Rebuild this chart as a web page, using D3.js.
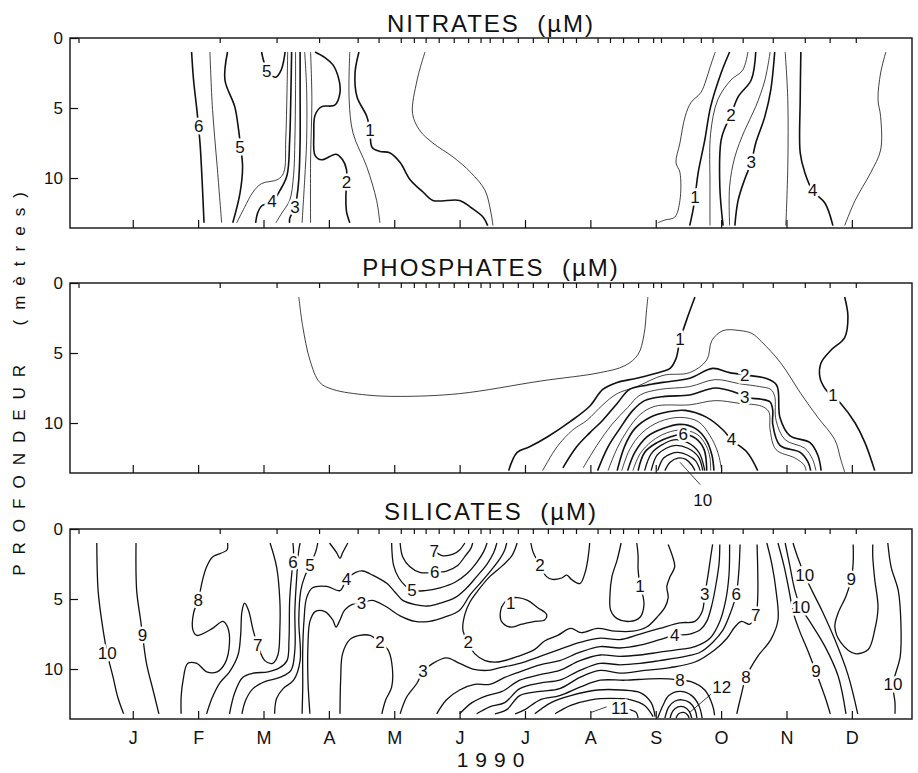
<!DOCTYPE html>
<html>
<head>
<meta charset="utf-8">
<script src="https://cdn.jsdelivr.net/npm/d3@7"></script>
<style>
  body { margin: 0; background: #fff; }
  text { font-family: "Liberation Sans", Arial, Helvetica, sans-serif; fill: #111; }
</style>
</head>
<body>
<svg id="chart" width="918" height="773"></svg>
<script>
// axis values
const months = ["J", "F", "M", "A", "M", "J", "J", "A", "S", "O", "N", "D"];
const monthTicks = [1, 2, 3, 4, 5, 6, 7, 8, 9, 10, 11, 12];
const depthTicks = [0, 5, 10];
// sampling dates (month units), the little ticks along the top edge
const sampleDates = [0.17, 2.33, 3.20, 3.85, 4.44, 4.76, 5.10, 5.30, 5.48, 5.68, 5.91, 6.13, 6.32, 6.46,
  6.66, 6.89, 7.12, 7.35, 7.58, 7.78, 8.11, 8.30, 8.50, 8.73, 8.96, 9.08, 9.42, 9.69, 9.87, 10.33,
  10.79, 11.28, 11.66, 12.06];

// ---- NITRATES contours: [month, depth] ----
const n6 = [[1.90,1.0],[1.93,3.0],[1.98,5.1],[2.03,7.6],[2.06,10.1],[2.09,13.2]];
const n55 = [[2.18,1.0],[2.22,5.1],[2.29,9.1],[2.36,13.2]];
const n5 = [[2.45,1.0],[2.41,3.0],[2.56,4.9],[2.62,6.6],[2.65,7.8],[2.68,9.2],[2.64,11.1],[2.53,13.2]];
const n5u = [[2.97,1.0],[3.02,1.9],[3.10,2.6],[3.19,2.8],[3.27,2.3],[3.31,1.6],[3.33,1.0]];
const n45 = [[3.37,1.0],[3.36,3.7],[3.34,7.3],[3.31,9.6],[3.22,10.1],[2.97,10.4],[2.84,11.0],[2.71,12.1],[2.59,13.2]];
const n4 = [[3.43,1.0],[3.42,3.7],[3.40,7.3],[3.36,9.8],[3.25,10.9],[3.13,11.7],[2.97,12.0],[2.91,12.5],[2.88,13.2]];
const n35 = [[3.49,1.0],[3.49,3.7],[3.48,7.3],[3.46,9.8],[3.40,11.6],[3.28,12.5],[3.19,13.2]];
const n3 = [[3.56,1.0],[3.56,3.7],[3.56,7.3],[3.54,10.1],[3.51,11.4],[3.48,12.1],[3.40,12.9],[3.40,13.2]];
const n25 = [[3.63,1.0],[3.66,3.7],[3.66,7.3],[3.63,10.1],[3.59,13.2]];
const n22 = [[3.72,1.0],[3.74,4.4],[3.72,8.7],[3.72,13.2]];
const n2 = [[3.79,1.0],[3.94,1.4],[4.06,1.9],[4.15,2.9],[4.17,3.9],[4.09,4.8],[3.89,4.9],[3.79,5.5],[3.77,6.9],[3.79,8.4],[3.89,8.7],[4.11,8.3],[4.21,8.7],[4.27,9.4],[4.27,10.3],[4.26,11.4],[4.27,12.4],[4.32,13.2]];
const n15 = [[4.32,1.0],[4.31,4.4],[4.37,6.8],[4.58,9.2],[4.73,11.6],[4.78,13.2]];
const n1 = [[4.46,1.0],[4.40,2.5],[4.43,4.2],[4.58,5.6],[4.63,6.6],[4.66,7.8],[4.78,8.1],[4.93,8.2],[5.09,8.9],[5.24,10.1],[5.44,11.0],[5.59,11.6],[6.00,11.6],[6.17,12.1],[6.36,12.8],[6.43,13.4]];
const n05 = [[5.47,1.0],[5.35,3.0],[5.28,5.4],[5.39,6.6],[5.59,7.5],[5.90,8.5],[6.17,9.6],[6.39,10.9],[6.48,12.5],[6.51,13.4]];
const n05r = [[9.91,1.0],[9.83,2.1],[9.77,3.0],[9.69,3.9],[9.54,4.6],[9.45,5.6],[9.37,7.5],[9.31,8.9],[9.37,9.6],[9.37,11.6],[9.29,12.8],[9.14,13.0],[9.03,13.2]];
const n1r = [[10.13,1.0],[10.00,2.5],[9.84,4.9],[9.75,7.3],[9.65,9.6],[9.60,11.4],[9.57,12.3],[9.52,13.4]];
const n15r = [[10.41,1.0],[10.33,2.3],[10.15,3.0],[9.95,4.4],[9.84,6.8],[9.83,10.6],[9.83,13.4]];
const n2r = [[10.53,1.0],[10.46,3.0],[10.26,4.2],[10.15,5.5],[10.06,6.4],[10.00,7.3],[9.98,10.6],[10.03,13.4]];
const n25r = [[10.75,1.0],[10.67,3.0],[10.53,4.9],[10.36,6.6],[10.21,8.5],[10.13,10.6],[10.13,13.4]];
const n3r = [[10.82,1.0],[10.76,3.7],[10.67,5.6],[10.53,7.5],[10.46,8.9],[10.36,10.1],[10.26,11.6],[10.21,13.4]];
const n35r = [[10.98,1.0],[11.02,4.4],[11.02,9.2],[10.99,13.4]];
const n4r = [[11.22,1.0],[11.21,4.4],[11.21,8.2],[11.28,9.6],[11.40,10.9],[11.59,11.8],[11.71,13.4]];
const n35r2 = [[12.52,1.0],[12.44,2.5],[12.40,4.4],[12.44,5.6],[12.44,8.0],[12.29,9.6],[12.05,11.6],[11.89,13.4]];
const nitLabels = [[2.01,6.3,"6"],[2.64,7.8,"5"],[3.05,2.4,"5"],[3.13,11.7,"4"],[3.48,12.1,"3"],[4.27,10.3,"2"],
  [4.63,6.6,"1"],[9.60,11.4,"1"],[10.15,5.5,"2"],[10.46,8.9,"3"],[11.40,10.9,"4"]];

// ---- PHOSPHATES contours ----
const p05 = [[3.54,1.0],[3.60,3.1],[3.71,5.5],[3.86,7.1],[4.06,7.6],[4.58,8.0],[5.09,8.1],[6.00,7.9],[7.24,7.0],[8.15,6.4],[8.53,5.9],[8.73,5.1],[8.82,3.7],[8.86,1.9],[8.88,1.0]];
const p1 = [[9.60,1.0],[9.49,2.4],[9.37,4.1],[9.31,5.4],[9.22,6.1],[9.11,6.3],[8.71,6.8],[8.41,7.1],[8.19,7.6],[7.99,8.8],[7.69,9.9],[7.34,11.0],[7.07,11.7],[6.88,12.1],[6.75,13.4]];
const p15 = [[7.27,13.4],[7.49,11.7],[7.73,10.5],[7.95,9.8],[8.19,8.7],[8.41,7.9],[8.71,7.4],[9.11,6.6],[9.52,6.4],[9.78,5.5],[9.86,4.1],[10.03,3.4],[10.29,3.4],[10.47,3.6],[10.62,4.2],[10.91,5.7],[11.22,7.9],[11.48,9.6],[11.74,11.2],[11.83,12.6],[11.89,13.5]];
const p2 = [[7.58,13.2],[7.79,11.7],[7.99,10.7],[8.19,9.8],[8.41,8.6],[8.60,7.6],[8.86,7.3],[9.11,7.1],[9.52,6.8],[9.87,6.1],[10.13,6.4],[10.41,6.6],[10.68,6.8],[10.85,7.3],[10.90,9.6],[11.05,10.9],[11.36,11.4],[11.48,12.3],[11.53,13.4]];
const p25 = [[7.89,13.2],[8.10,11.6],[8.33,10.1],[8.57,8.9],[8.76,8.0],[9.06,7.6],[9.52,7.4],[9.91,6.9],[10.29,7.2],[10.59,7.4],[10.76,7.6],[10.82,8.1],[10.84,9.8],[10.98,11.2],[11.28,11.8],[11.40,12.6],[11.45,13.4]];
const p3 = [[8.11,13.4],[8.27,11.7],[8.45,10.4],[8.65,9.1],[8.83,8.4],[9.14,8.1],[9.52,8.0],[9.91,7.5],[10.21,7.8],[10.41,8.2],[10.62,8.3],[10.75,8.5],[10.79,9.1],[10.79,10.1],[10.90,11.6],[11.21,12.1],[11.33,12.8],[11.37,13.4]];
const p35 = [[8.27,13.4],[8.41,11.8],[8.57,10.5],[8.76,9.4],[8.99,8.8],[9.52,8.7],[9.91,8.4],[10.29,8.6],[10.62,8.8],[10.73,9.2],[10.75,10.5],[10.84,11.9],[11.13,12.5],[11.27,13.0],[11.30,13.4]];
const p4 = [[8.41,13.4],[8.53,11.6],[8.68,10.4],[8.91,9.6],[9.19,9.2],[9.45,9.1],[9.78,9.6],[10.03,10.5],[10.16,11.2],[10.40,12.1],[10.56,13.4]];
const p45 = [[8.48,13.4],[8.60,11.9],[8.79,10.7],[9.06,9.9],[9.37,9.6],[9.65,9.9],[9.83,10.9],[9.95,12.1],[10.01,13.4]];
const p5 = [[8.57,13.4],[8.68,12.1],[8.86,11.0],[9.11,10.4],[9.37,10.1],[9.61,10.4],[9.77,11.2],[9.86,12.3],[9.89,13.4]];
const p55 = [[8.65,13.4],[8.76,12.2],[8.94,11.3],[9.17,10.7],[9.40,10.5],[9.63,10.8],[9.77,11.6],[9.83,12.5],[9.84,13.4]];
const p6 = [[8.73,13.4],[8.83,12.1],[9.02,11.4],[9.22,11.0],[9.42,10.8],[9.61,11.1],[9.74,11.9],[9.78,13.4]];
const p7 = [[8.83,13.4],[8.93,12.2],[9.08,11.6],[9.28,11.2],[9.49,11.4],[9.66,12.1],[9.75,13.4]];
const p8 = [[8.93,13.4],[9.02,12.3],[9.16,11.8],[9.31,11.6],[9.49,11.8],[9.65,12.4],[9.72,13.4]];
const p9 = [[9.03,13.4],[9.12,12.5],[9.23,12.2],[9.34,12.1],[9.49,12.3],[9.61,12.7],[9.68,13.4]];
const p10 = [[9.14,13.4],[9.22,12.8],[9.34,12.5],[9.46,12.6],[9.55,13.0],[9.60,13.4]];
const p1r = [[11.89,1.0],[11.94,2.4],[11.89,3.9],[11.68,4.8],[11.53,5.7],[11.51,6.7],[11.60,7.6],[11.83,8.6],[12.05,10.0],[12.20,11.4],[12.35,13.4]];
const p10lead = [[9.37,12.8],[9.68,14.4]];
const phoLabels = [[9.37,4.0,"1"],[10.36,6.6,"2"],[10.36,8.2,"3"],[10.16,11.2,"4"],[9.42,10.8,"6"],[11.71,8.0,"1"],[9.72,15.5,"10"]];

// ---- SILICATES contours ----
const s10l = [[0.45,1.0],[0.47,4.4],[0.53,6.7],[0.61,8.9],[0.70,10.6],[0.77,12.0],[0.86,13.2]];
const s9l = [[1.05,1.0],[1.06,4.4],[1.12,6.5],[1.15,7.6],[1.21,9.6],[1.31,11.5],[1.40,13.2]];
const s8 = [[2.45,1.0],[2.44,1.5],[2.22,2.0],[2.13,2.7],[2.07,3.6],[2.00,5.1],[1.93,6.0],[1.92,7.2],[1.98,7.6],[2.22,7.1],[2.38,6.6],[2.45,7.0],[2.48,8.1],[2.41,9.6],[2.29,10.2],[2.13,10.2],[1.98,9.6],[1.84,9.6],[1.77,10.8],[1.74,12.0],[1.74,13.2]];
const s7 = [[3.10,1.0],[3.20,2.7],[3.25,5.1],[3.25,7.2],[3.22,9.0],[3.14,9.6],[3.02,9.4],[2.91,8.3],[2.84,7.2],[2.77,5.8],[2.71,5.3],[2.67,5.9],[2.65,7.6],[2.61,9.0],[2.48,10.2],[2.33,11.0],[2.21,12.1],[2.13,13.2]];
const s6 = [[3.45,1.0],[3.46,1.6],[3.45,2.4],[3.43,3.3],[3.40,5.1],[3.39,7.9],[3.36,9.4],[3.25,9.9],[3.07,10.2],[2.84,10.3],[2.68,10.6],[2.56,11.7],[2.48,13.2]];
const s55 = [[3.56,1.0],[3.54,1.5],[3.51,3.3],[3.48,5.8],[3.48,8.6],[3.42,10.1],[3.25,10.6],[3.02,10.9],[2.84,11.4],[2.73,12.2],[2.67,13.2]];
const s5 = [[3.83,1.0],[3.80,1.6],[3.71,2.6],[3.63,3.4],[3.57,4.4],[3.54,6.5],[3.56,9.4],[3.46,10.8],[3.30,11.4],[3.20,12.1],[3.17,13.2]];
const s4 = [[3.59,13.2],[3.60,11.3],[3.60,8.6],[3.62,6.5],[3.66,4.9],[3.75,4.2],[3.97,4.1],[4.17,4.4],[4.27,3.6],[4.41,3.1],[4.52,3.0],[4.67,3.3],[4.89,3.9],[5.01,4.5],[5.13,5.1],[5.32,5.4],[5.51,5.5],[5.70,5.3],[5.93,4.9],[6.11,4.2],[6.26,3.4],[6.42,2.5],[6.52,1.7],[6.57,1.0]];
const s3l = [[3.71,13.2],[3.68,10.8],[3.68,8.3],[3.71,6.6],[3.79,5.9],[3.94,5.9],[4.06,6.5],[4.11,7.0],[4.17,6.5],[4.24,5.8],[4.35,5.4],[4.50,5.3],[4.66,5.1],[4.86,5.5],[5.09,6.2],[5.32,6.6],[5.54,6.6],[5.77,6.3],[6.00,5.8],[6.16,4.7],[6.31,3.9],[6.49,2.9],[6.62,2.1],[6.69,1.5],[6.72,1.0]];
const s2n = [[4.17,13.2],[4.18,10.8],[4.21,8.9],[4.32,7.9],[4.47,7.6],[4.63,7.6],[4.78,8.1],[4.90,8.6],[4.96,9.5],[4.96,11.3],[4.87,12.2],[4.81,13.2]];
const sV = [[4.01,1.0],[4.12,1.7],[4.17,2.1],[4.21,1.7],[4.29,1.0]];
const s5u = [[4.96,1.0],[4.99,2.6],[5.07,3.5],[5.18,4.1],[5.27,4.4],[5.47,4.4],[5.70,4.2],[5.93,3.8],[6.11,3.2],[6.26,2.4],[6.37,1.6],[6.42,1.0]];
const s6u = [[5.09,1.0],[5.13,2.0],[5.24,2.7],[5.39,3.1],[5.62,3.1],[5.80,3.0],[5.97,2.6],[6.09,1.9],[6.17,1.4],[6.20,1.0]];
const s7u = [[5.54,1.0],[5.61,1.5],[5.73,1.9],[5.90,1.8],[6.00,1.5],[6.08,1.0]];
const s2 = [[6.88,1.0],[6.80,1.9],[6.66,2.6],[6.46,3.4],[6.28,4.4],[6.16,5.2],[6.08,6.1],[6.05,7.2],[6.13,8.1],[6.23,8.9],[6.39,9.4],[6.58,9.5],[6.89,9.1],[7.15,8.6],[7.30,8.0],[7.50,7.6],[7.70,7.1],[7.86,7.4],[8.11,7.1],[8.38,7.3],[8.65,7.3],[8.86,7.0],[9.02,6.3],[9.14,5.6],[9.19,4.9],[9.17,4.1],[9.22,3.4],[9.29,2.7],[9.26,2.0],[9.19,1.1]];
const sLoop1 = [[6.64,5.6],[6.74,5.0],[6.89,4.9],[7.04,5.1],[7.19,5.6],[7.33,6.1],[7.30,6.5],[7.15,6.6],[6.95,6.8],[6.77,7.0],[6.64,6.6],[6.62,6.1],[6.64,5.6]];
const sU1 = [[8.47,1.0],[8.41,2.2],[8.33,3.4],[8.30,4.7],[8.31,5.8],[8.41,6.4],[8.60,6.6],[8.76,6.3],[8.82,5.4],[8.79,4.5],[8.76,4.0],[8.73,2.9],[8.73,1.9],[8.71,1.0]];
const s2u = [[7.09,1.0],[7.12,1.6],[7.18,2.2],[7.23,2.6],[7.33,3.4],[7.42,3.6],[7.56,3.5],[7.64,3.3],[7.71,3.6],[7.84,3.9],[7.92,3.1],[7.96,2.2],[7.99,1.0]];
const c3 = [[5.09,13.2],[5.19,12.0],[5.35,11.0],[5.44,10.2],[5.59,9.6],[5.80,9.2],[6.00,9.6],[6.20,10.0],[6.42,10.1],[6.62,9.9],[6.92,9.6],[7.23,9.1],[7.53,8.6],[7.84,8.1],[8.15,7.8],[8.45,7.9],[8.76,7.5],[9.06,7.1],[9.37,6.7],[9.60,6.6],[9.71,5.9],[9.75,4.7],[9.80,3.3],[9.84,2.0],[9.87,1.1]];
const c4 = [[5.65,13.2],[5.80,12.2],[6.00,11.5],[6.23,11.1],[6.46,11.1],[6.69,10.6],[6.92,10.2],[7.23,9.7],[7.53,9.4],[7.84,8.8],[8.15,8.4],[8.45,8.5],[8.76,8.3],[9.06,7.9],[9.29,7.6],[9.52,7.5],[9.68,7.2],[9.78,6.6],[9.86,5.4],[9.92,4.0],[9.97,2.4],[9.98,1.1]];
const c5 = [[6.00,13.2],[6.19,12.4],[6.42,11.9],[6.65,11.6],[6.92,10.8],[7.23,10.4],[7.53,10.1],[7.84,9.4],[8.15,9.0],[8.45,9.1],[8.76,9.0],[9.06,8.8],[9.37,8.6],[9.60,8.4],[9.83,7.8],[9.98,6.6],[10.07,5.1],[10.12,3.3],[10.13,1.1]];
const c6 = [[6.26,13.2],[6.46,12.7],[6.69,12.4],[6.92,11.4],[7.23,11.0],[7.53,10.8],[7.84,10.1],[8.15,9.6],[8.45,9.7],[8.76,9.6],[9.06,9.4],[9.45,9.1],[9.68,8.8],[9.87,8.1],[10.03,7.2],[10.15,5.9],[10.23,4.7],[10.27,3.1],[10.29,1.1]];
const c7 = [[6.54,13.2],[6.72,12.9],[6.92,11.9],[7.23,11.6],[7.53,11.4],[7.84,10.6],[8.15,10.1],[8.45,10.3],[8.83,10.1],[9.22,9.9],[9.60,9.5],[9.91,8.6],[10.09,7.8],[10.21,7.0],[10.31,6.6],[10.44,6.8],[10.53,6.2],[10.56,4.9],[10.56,2.9],[10.55,1.1]];
const c8 = [[6.85,13.2],[7.00,12.9],[7.23,12.2],[7.53,11.9],[7.84,11.3],[8.15,10.8],[8.53,10.8],[8.91,10.7],[9.19,10.7],[9.37,10.8],[9.54,10.9],[9.75,11.5],[9.87,12.6],[9.90,13.3]];
const arc9 = [[7.15,13.2],[7.40,12.4],[7.70,11.9],[8.11,11.5],[8.47,11.5],[8.77,11.7],[8.93,12.4],[8.99,13.4]];
const arc10 = [[7.46,13.2],[7.70,12.6],[8.01,12.2],[8.31,12.1],[8.62,12.2],[8.83,12.6],[8.96,13.4]];
const arc11 = [[8.60,12.9],[8.70,13.1],[8.73,13.5]];
const lead11 = [[8.01,13.1],[8.25,12.7]];
const a12a = [[9.03,13.5],[9.11,12.6],[9.20,11.9],[9.37,11.6],[9.55,11.9],[9.66,12.6],[9.71,13.5]];
const a12b = [[9.14,13.5],[9.20,12.7],[9.29,12.3],[9.40,12.2],[9.52,12.4],[9.60,12.9],[9.63,13.5]];
const a12c = [[9.22,13.5],[9.26,13.0],[9.34,12.7],[9.43,12.7],[9.51,13.0],[9.55,13.5]];
const a12d = [[9.31,13.5],[9.35,13.2],[9.43,13.1],[9.49,13.3],[9.51,13.5]];
const lead12 = [[9.87,11.7],[9.52,13.1]];
const s8r = [[10.70,1.0],[10.78,2.6],[10.84,4.4],[10.87,6.5],[10.76,7.9],[10.56,9.1],[10.38,10.6],[10.30,12.0],[10.24,13.2]];
const s9 = [[10.87,1.0],[10.96,2.6],[11.04,4.4],[11.10,5.9],[11.21,7.4],[11.31,8.5],[11.45,10.2],[11.59,12.0],[11.67,13.2]];
const s10a = [[10.98,1.0],[11.05,2.6],[11.13,4.4],[11.22,5.6],[11.37,6.7],[11.59,8.4],[11.79,10.5],[11.91,13.2]];
const s10b = [[11.10,1.0],[11.17,2.0],[11.28,3.3],[11.39,4.4],[11.54,5.8],[11.74,7.9],[11.94,10.4],[12.09,13.2]];
const s9u = [[12.02,1.1],[12.02,2.4],[11.99,3.6],[11.91,4.8],[11.79,6.0],[11.74,7.0],[11.83,8.1],[12.05,8.9],[12.25,8.6],[12.35,7.2],[12.40,5.6],[12.35,3.6],[12.32,2.0],[12.32,1.1]];
const s10r = [[12.55,1.0],[12.60,2.7],[12.71,4.4],[12.75,6.7],[12.74,9.1],[12.63,11.1],[12.66,12.4],[12.66,13.2]];
const silLabels = [[0.61,8.9,"10"],[1.15,7.6,"9"],[2.00,5.1,"8"],[2.91,8.3,"7"],[3.45,2.4,"6"],[3.71,2.6,"5"],
  [4.27,3.6,"4"],[4.50,5.3,"3"],[4.78,8.1,"2"],[5.27,4.4,"5"],[5.62,3.1,"6"],[5.61,1.6,"7"],[6.13,8.1,"2"],
  [6.78,5.3,"1"],[7.23,2.6,"2"],[8.76,4.1,"1"],[5.44,10.2,"3"],[9.75,4.7,"3"],[9.29,7.6,"4"],[10.23,4.7,"6"],
  [10.53,6.2,"7"],[9.37,10.8,"8"],[10.38,10.6,"8"],[8.45,12.8,"11"],[10.01,11.3,"12"],[11.28,3.3,"10"],
  [11.22,5.6,"10"],[11.99,3.6,"9"],[11.45,10.2,"9"],[12.63,11.1,"10"]];

const THICK = 1.6, THIN = 0.8, MID = 1.3;
const nitContours = [
  [n6, THICK], [n55, THIN], [n5, THICK], [n5u, THICK], [n45, THIN], [n4, THICK], [n35, THIN], [n3, THICK],
  [n25, THIN], [n22, THIN], [n2, THICK], [n15, THIN], [n1, THICK], [n05, THIN],
  [n05r, THIN], [n1r, THICK], [n15r, THIN], [n2r, THICK], [n25r, THIN], [n3r, THICK], [n35r, THIN],
  [n4r, THICK], [n35r2, THIN]];
const phoContours = [
  [p05, THIN], [p1, THICK], [p15, THIN], [p2, THICK], [p25, THIN], [p3, THICK], [p35, THIN], [p4, THICK],
  [p45, THIN], [p5, THICK], [p55, THIN], [p6, THICK], [p7, MID], [p8, MID], [p9, MID], [p10, MID],
  [p1r, THICK], [p10lead, THIN]];
const silContours = [
  [s10l, MID], [s9l, MID], [s8, MID], [s7, MID], [s6, MID], [s55, MID], [s5, MID], [s4, MID], [s3l, MID],
  [s2n, MID], [sV, MID], [s5u, MID], [s6u, MID], [s7u, MID], [s2, MID], [sLoop1, MID], [sU1, MID], [s2u, MID],
  [c3, MID], [c4, MID], [c5, MID], [c6, MID], [c7, MID], [c8, MID], [arc9, MID], [arc10, MID], [arc11, MID],
  [lead11, THIN], [a12a, MID], [a12b, MID], [a12c, MID], [a12d, MID], [lead12, THIN],
  [s8r, MID], [s9, MID], [s10a, MID], [s10b, MID], [s9u, MID], [s10r, MID]];

// ---- layout ----
const svg = d3.select("#chart");
const x = d3.scaleLinear().domain([0.04, 12.92]).range([70, 912]);
const panelTops = [38, 283, 529];
const titleBase = [32, 276, 520];
const panelH = 190;
const maxDepth = 13.57;
const ink = "#111";

function drawPanel(i, title, contours, labels, showMonths) {
  const top = panelTops[i];
  const y = d3.scaleLinear().domain([0, maxDepth]).range([top, top + panelH]);
  const g = svg.append("g");

  g.append("text")
    .attr("x", 491).attr("y", titleBase[i])
    .attr("text-anchor", "middle")
    .attr("font-size", 24).attr("letter-spacing", 2)
    .style("white-space", "pre")
    .text(title);

  const line = d3.line()
    .x(d => x(d[0])).y(d => y(d[1]))
    .curve(d3.curveCatmullRom.alpha(0.5));

  g.append("g").selectAll("path")
    .data(contours)
    .join("path")
    .attr("d", c => line(c[0]))
    .attr("fill", "none")
    .attr("stroke", ink)
    .attr("stroke-width", c => c[1])
    .attr("stroke-linejoin", "round");

  g.append("g").selectAll("text")
    .data(labels)
    .join("text")
    .attr("x", d => x(d[0])).attr("y", d => y(d[1]))
    .attr("text-anchor", "middle")
    .attr("dominant-baseline", "central")
    .attr("font-size", 17)
    .attr("stroke", "#fff").attr("stroke-width", 5).attr("paint-order", "stroke")
    .text(d => d[2]);

  // frame
  g.append("rect")
    .attr("x", 70).attr("y", top).attr("width", 842).attr("height", panelH)
    .attr("fill", "none").attr("stroke", ink).attr("stroke-width", 1.4);

  const left = g.append("g").attr("transform", "translate(70,0)")
    .call(d3.axisLeft(y).tickValues(depthTicks).tickSizeInner(-8).tickSizeOuter(0).tickPadding(7)
      .tickFormat(d3.format("d")));
  const bottom = g.append("g").attr("transform", `translate(0,${top + panelH})`)
    .call(d3.axisBottom(x).tickValues(monthTicks).tickSizeInner(-8).tickSizeOuter(0).tickPadding(12)
      .tickFormat((d, j) => showMonths ? months[j] : ""));
  const upper = g.append("g").attr("transform", `translate(0,${top})`)
    .call(d3.axisTop(x).tickValues(sampleDates).tickSizeInner(-5).tickSizeOuter(0).tickFormat(""));

  [left, bottom, upper].forEach(a => {
    a.select(".domain").remove();
    a.attr("font-family", null).attr("font-size", null);
    a.selectAll("line").attr("stroke", ink).attr("stroke-width", 1.2);
    a.selectAll("text").attr("fill", ink).attr("font-size", 17);
  });
  bottom.selectAll("text").attr("font-size", 18);
}

drawPanel(0, "NITRATES  (\u00b5M)", nitContours, nitLabels, false);
drawPanel(1, "PHOSPHATES  (\u00b5M)", phoContours, phoLabels, false);
drawPanel(2, "SILICATES  (\u00b5M)", silContours, silLabels, true);

svg.append("text")
  .attr("x", 494).attr("y", 767)
  .attr("text-anchor", "middle")
  .attr("font-size", 21).attr("letter-spacing", 7)
  .text("1990");

svg.append("text")
  .attr("transform", "translate(25,379) rotate(-90)")
  .attr("text-anchor", "middle")
  .attr("font-size", 17).attr("letter-spacing", 10)
  .style("white-space", "pre")
  .text("PROFONDEUR  (m\u00e8tres)");
</script>
</body>
</html>
